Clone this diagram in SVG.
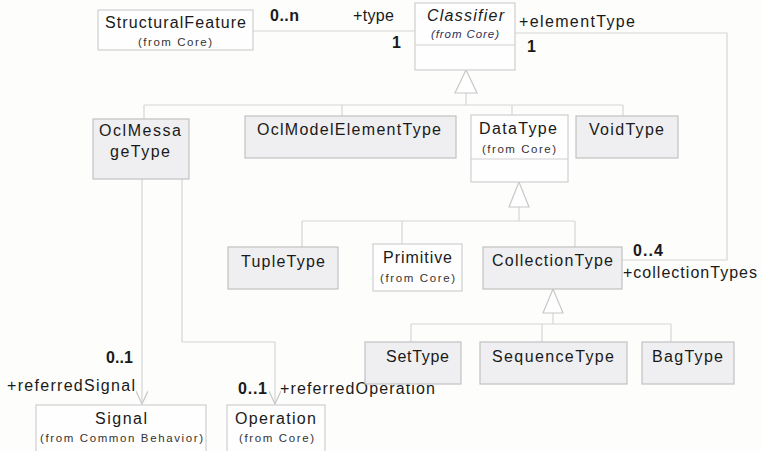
<svg xmlns="http://www.w3.org/2000/svg" width="761" height="451" viewBox="0 0 761 451">
<style>
.bg{fill:#fdfdfc}
.box{fill:#efeff1;stroke:#c2c2c2;stroke-width:1.2}
.wbox{fill:#fefefe;stroke:#cfcfcf;stroke-width:1.2}
.ln{fill:none;stroke:#d6d6d6;stroke-width:1.2}
.tri{fill:#ffffff;stroke:#c8c8c8;stroke-width:1.2}
text{font-family:"Liberation Sans",Arial,sans-serif;fill:#1a1a1a}
.n{font-size:16px}
.s{font-size:11.5px;fill:#333}
.i{font-style:italic}
.b{font-size:16px;font-weight:bold}
</style>
<defs>
<marker id="open" viewBox="0 0 14 12" refX="13" refY="6" markerWidth="14" markerHeight="12" markerUnits="userSpaceOnUse" orient="auto">
<path d="M0,0 L13,6 L0,12" fill="none" stroke="#c8c8c8" stroke-width="1.2"/>
</marker>
</defs>
<rect class="bg" x="0" y="0" width="761" height="451"/>

<g id="connectors">
<path class="ln" d="M253,31 H415"/>
<path class="ln" d="M515,33 H727 V260 H622"/>
<path class="ln" d="M466,93 V105 M144,105 H623 M144,105 V119 M342,105 V116 M512,105 V115 M623,105 V116"/>
<polygon class="tri" points="466,70 455,93 477,93"/>
<path class="ln" d="M519,207 V221 M302,221 H575 M302,221 V247 M402,221 V244 M575,221 V247"/>
<polygon class="tri" points="519,182 509,207 529,207"/>
<path class="ln" d="M553,313 V324 M411,324 H671 M411,324 V342 M542,324 V342 M671,324 V342"/>
<polygon class="tri" points="553,289 543,313 563,313"/>
<path class="ln" d="M142,179 V404" marker-end="url(#open)"/>
<path class="ln" d="M182,179 V342 H275 V404" marker-end="url(#open)"/>
</g>

<g id="labels">
<text class="b" x="270" y="21" textLength="29" lengthAdjust="spacing">0..n</text>
<text class="n" x="353" y="21" textLength="41" lengthAdjust="spacing">+type</text>
<text class="b" x="392" y="48">1</text>
<text class="n" x="519" y="27" textLength="116" lengthAdjust="spacing">+elementType</text>
<text class="b" x="527" y="52">1</text>
<text class="b" x="633" y="256" textLength="30" lengthAdjust="spacing">0..4</text>
<text class="n" x="623" y="278" textLength="134" lengthAdjust="spacing">+collectionTypes</text>
<text class="b" x="106" y="363" textLength="27" lengthAdjust="spacing">0..1</text>
<text class="n" x="7" y="391" textLength="128" lengthAdjust="spacing">+referredSignal</text>
<text class="b" x="238" y="394" textLength="29" lengthAdjust="spacing">0..1</text>
<text class="n" x="280" y="394" textLength="155" lengthAdjust="spacing">+referredOperation</text>
</g>

<g id="StructuralFeature">
<rect class="wbox" x="98" y="10" width="155" height="40"/>
<text class="n" x="105" y="28" textLength="141" lengthAdjust="spacing">StructuralFeature</text>
<text class="s" x="138" y="46" textLength="74" lengthAdjust="spacing">(from Core)</text>
</g>

<g id="Classifier">
<rect class="wbox" x="415" y="3" width="100" height="67"/>
<path class="ln" d="M415,45 H515" style="stroke:#cfcfcf"/>
<text class="n i" x="427" y="21" textLength="77" lengthAdjust="spacing">Classifier</text>
<text class="s i" x="431" y="38" textLength="68" lengthAdjust="spacing" style="fill:#2f2f55">(from Core)</text>
</g>

<g id="OclMessageType">
<rect class="box" x="93" y="119" width="96" height="60"/>
<text class="n" x="99" y="136" textLength="82" lengthAdjust="spacing">OclMessa</text>
<text class="n" x="110" y="157" textLength="60" lengthAdjust="spacing">geType</text>
</g>

<g id="OclModelElementType">
<rect class="box" x="245" y="116" width="211" height="42"/>
<text class="n" x="257" y="135" textLength="184" lengthAdjust="spacing">OclModelElementType</text>
</g>

<g id="DataType">
<rect class="wbox" x="471" y="115" width="97" height="67"/>
<path class="ln" d="M471,159 H568" style="stroke:#cfcfcf"/>
<text class="n" x="479" y="134" textLength="78" lengthAdjust="spacing">DataType</text>
<text class="s" x="482" y="153" textLength="74" lengthAdjust="spacing">(from Core)</text>
</g>

<g id="VoidType">
<rect class="box" x="576" y="116" width="102" height="42"/>
<text class="n" x="589" y="135" textLength="75" lengthAdjust="spacing">VoidType</text>
</g>

<g id="TupleType">
<rect class="box" x="228" y="247" width="110" height="42"/>
<text class="n" x="241" y="267" textLength="84" lengthAdjust="spacing">TupleType</text>
</g>

<g id="Primitive">
<rect class="wbox" x="373" y="244" width="89" height="47"/>
<text class="n" x="383" y="263" textLength="69" lengthAdjust="spacing">Primitive</text>
<text class="s" x="380" y="282" textLength="75" lengthAdjust="spacing">(from Core)</text>
</g>

<g id="CollectionType">
<rect class="box" x="483" y="247" width="139" height="42"/>
<text class="n" x="492" y="266" textLength="121" lengthAdjust="spacing">CollectionType</text>
</g>

<g id="SetType">
<rect class="box" x="365" y="342" width="96" height="42"/>
<text class="n" x="386" y="362" textLength="63" lengthAdjust="spacing">SetType</text>
</g>

<g id="SequenceType">
<rect class="box" x="480" y="342" width="147" height="42"/>
<text class="n" x="492" y="362" textLength="122" lengthAdjust="spacing">SequenceType</text>
</g>

<g id="BagType">
<rect class="box" x="642" y="342" width="92" height="42"/>
<text class="n" x="652" y="362" textLength="71" lengthAdjust="spacing">BagType</text>
</g>

<g id="Signal">
<rect class="wbox" x="36" y="405" width="170" height="60"/>
<text class="n" x="95" y="424" textLength="52" lengthAdjust="spacing">Signal</text>
<text class="s" x="40" y="442" textLength="163" lengthAdjust="spacing">(from Common Behavior)</text>
</g>

<g id="Operation">
<rect class="wbox" x="227" y="405" width="98" height="60"/>
<text class="n" x="235" y="424" textLength="81" lengthAdjust="spacing">Operation</text>
<text class="s" x="239" y="442" textLength="75" lengthAdjust="spacing">(from Core)</text>
</g>
</svg>
